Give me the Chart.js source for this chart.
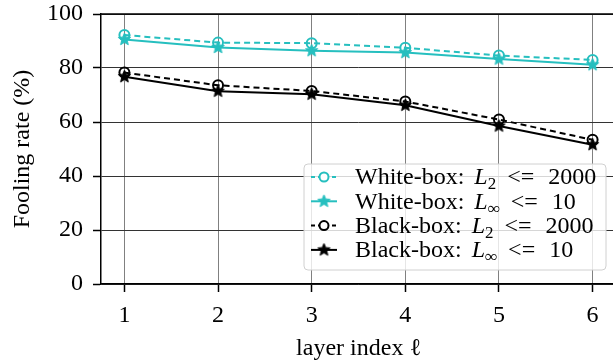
<!DOCTYPE html>
<html>
<head>
<meta charset="utf-8">
<script src="https://cdn.jsdelivr.net/npm/chart.js@4"></script>
<style>
  html, body { margin: 0; padding: 0; background: #fff; overflow: hidden; }
  #chart { display: block; }
</style>
</head>
<body>
<canvas id="chart" width="623" height="363"></canvas>
<script>
const layers = [1, 2, 3, 4, 5, 6];
const yTicks = [0, 20, 40, 60, 80, 100];
const whiteL2 = [92.2, 89.4, 89.2, 87.5, 84.6, 83.0];
const whiteLinf = [90.6, 87.6, 86.4, 85.7, 83.3, 81.2];
const blackL2 = [78.3, 73.6, 71.5, 67.6, 60.9, 53.4];
const blackLinf = [76.8, 71.4, 70.3, 66.2, 58.5, 51.6];

const CYAN = '#26bfbf';
const FONT = '"Liberation Serif", "DejaVu Serif", serif';
const FS = 24;

// filled five point star used as a marker
function makeStar(color, r) {
  const c = document.createElement('canvas');
  const s = Math.ceil(r * 2 + 4);
  c.width = s; c.height = s;
  const g = c.getContext('2d');
  g.translate(s / 2, s / 2);
  g.beginPath();
  for (let i = 0; i < 10; i++) {
    const rad = i % 2 === 0 ? r : r * 0.45;
    const a = -Math.PI / 2 + i * Math.PI / 5;
    g.lineTo(rad * Math.cos(a), rad * Math.sin(a));
  }
  g.closePath();
  g.fillStyle = color;
  g.fill();
  g.lineWidth = 1;
  g.strokeStyle = color;
  g.stroke();
  return c;
}
const starCyan = makeStar(CYAN, 6.5);
const starBlack = makeStar('#000', 6.5);

function pts(arr) {
  return layers.map((x, i) => ({ x: x, y: arr[i] }));
}

const series = [
  { label: 'White-box', norm: '2', bound: '2000', data: whiteL2, color: CYAN, dash: [6, 4], marker: 'circle' },
  { label: 'White-box', norm: '∞', bound: '10', data: whiteLinf, color: CYAN, dash: [], marker: starCyan },
  { label: 'Black-box', norm: '2', bound: '2000', data: blackL2, color: '#000', dash: [6, 4], marker: 'circle' },
  { label: 'Black-box', norm: '∞', bound: '10', data: blackLinf, color: '#000', dash: [], marker: starBlack }
];

// legend inside the plot plus the top spine
const legendPlugin = {
  id: 'customLegend',
  afterDraw(chart) {
    const ctx = chart.ctx;
    const area = chart.chartArea;
    ctx.save();
    ctx.strokeStyle = '#000';
    ctx.lineWidth = 1.5;
    ctx.beginPath();
    ctx.moveTo(area.left, area.top);
    ctx.lineTo(area.right, area.top);
    ctx.stroke();

    const bx = 304, by = 164, bw = 302, bh = 106;
    ctx.beginPath();
    ctx.roundRect(bx, by, bw, bh, 4);
    ctx.fillStyle = 'rgba(255,255,255,0.8)';
    ctx.fill();
    ctx.strokeStyle = '#d0d0d0';
    ctx.lineWidth = 1;
    ctx.stroke();

    series.forEach((s, i) => {
      const y = 177 + i * 24.3;
      ctx.strokeStyle = s.color;
      ctx.lineWidth = 2;
      ctx.setLineDash(s.dash.length ? [4, 3] : []);
      ctx.beginPath();
      ctx.moveTo(311, y);
      ctx.lineTo(337, y);
      ctx.stroke();
      ctx.setLineDash([]);
      if (s.marker === 'circle') {
        ctx.beginPath();
        ctx.arc(324, y, 4.5, 0, Math.PI * 2);
        ctx.fillStyle = '#fff';
        ctx.fill();
        ctx.stroke();
      } else {
        ctx.drawImage(s.marker, 324 - s.marker.width / 2, y - s.marker.height / 2);
      }
      ctx.fillStyle = '#000';
      ctx.textBaseline = 'middle';
      ctx.textAlign = 'left';
      let x = 355;
      ctx.font = FS + 'px ' + FONT;
      const t1 = s.label + ':';
      ctx.fillText(t1, x, y + 1);
      x += ctx.measureText(t1).width + 10;
      ctx.font = 'italic ' + FS + 'px ' + FONT;
      ctx.fillText('L', x, y + 1);
      x += ctx.measureText('L').width;
      ctx.font = (s.norm === '∞' ? 'italic ' : '') + '17px ' + FONT;
      ctx.fillText(s.norm, x, y + 8);
      x += ctx.measureText(s.norm).width + 11;
      ctx.font = FS + 'px ' + FONT;
      ctx.fillText('<=', x, y + 1);
      x += ctx.measureText('<=').width + 14;
      ctx.fillText(s.bound, x, y + 1);
    });
    ctx.restore();
  }
};

const ctx = document.getElementById('chart').getContext('2d');
const chart = new Chart(ctx, {
  type: 'line',
  data: {
    datasets: series.map(s => ({
      label: s.label,
      data: pts(s.data),
      borderColor: s.color,
      backgroundColor: 'transparent',
      borderWidth: 2,
      borderDash: s.dash,
      pointStyle: s.marker,
      pointRadius: 5,
      pointBorderWidth: 2,
      pointBorderColor: s.color,
      pointBackgroundColor: 'transparent',
      tension: 0
    }))
  },
  options: {
    responsive: false,
    animation: false,
    layout: { padding: { top: 14, right: 0, left: 0, bottom: 0 } },
    plugins: { legend: { display: false }, tooltip: { enabled: false } },
    scales: {
      x: {
        type: 'linear',
        min: 0.75,
        max: 6.25,
        afterBuildTicks: sc => { sc.ticks = layers.map(v => ({ value: v })); },
        afterFit: sc => { sc.height = 79; sc.paddingLeft = 0; sc.paddingRight = 0; },
        grid: { color: '#808080', lineWidth: 1, tickColor: '#000', tickLength: 8, tickWidth: 1.5 },
        border: { color: '#000', width: 1.5 },
        ticks: { color: '#000', font: { family: FONT, size: FS }, padding: 9, maxRotation: 0 },
        title: { display: true, text: 'layer index ℓ', color: '#000', font: { family: FONT, size: FS }, padding: { top: 0, bottom: 0 } }
      },
      y: {
        min: 0,
        max: 100,
        afterBuildTicks: sc => { sc.ticks = yTicks.map(v => ({ value: v })); },
        afterFit: sc => { sc.width = 101; sc.paddingTop = 0; sc.paddingBottom = 0; },
        grid: { color: '#333', lineWidth: 1, tickColor: '#000', tickLength: 8, tickWidth: 1.5 },
        border: { color: '#000', width: 1.5 },
        ticks: { color: '#000', font: { family: FONT, size: FS }, padding: 10 },
        title: { display: true, text: 'Fooling rate (%)', color: '#000', font: { family: FONT, size: FS }, padding: { top: 8, bottom: 0 } }
      }
    }
  },
  plugins: [legendPlugin]
});
</script>
</body>
</html>
